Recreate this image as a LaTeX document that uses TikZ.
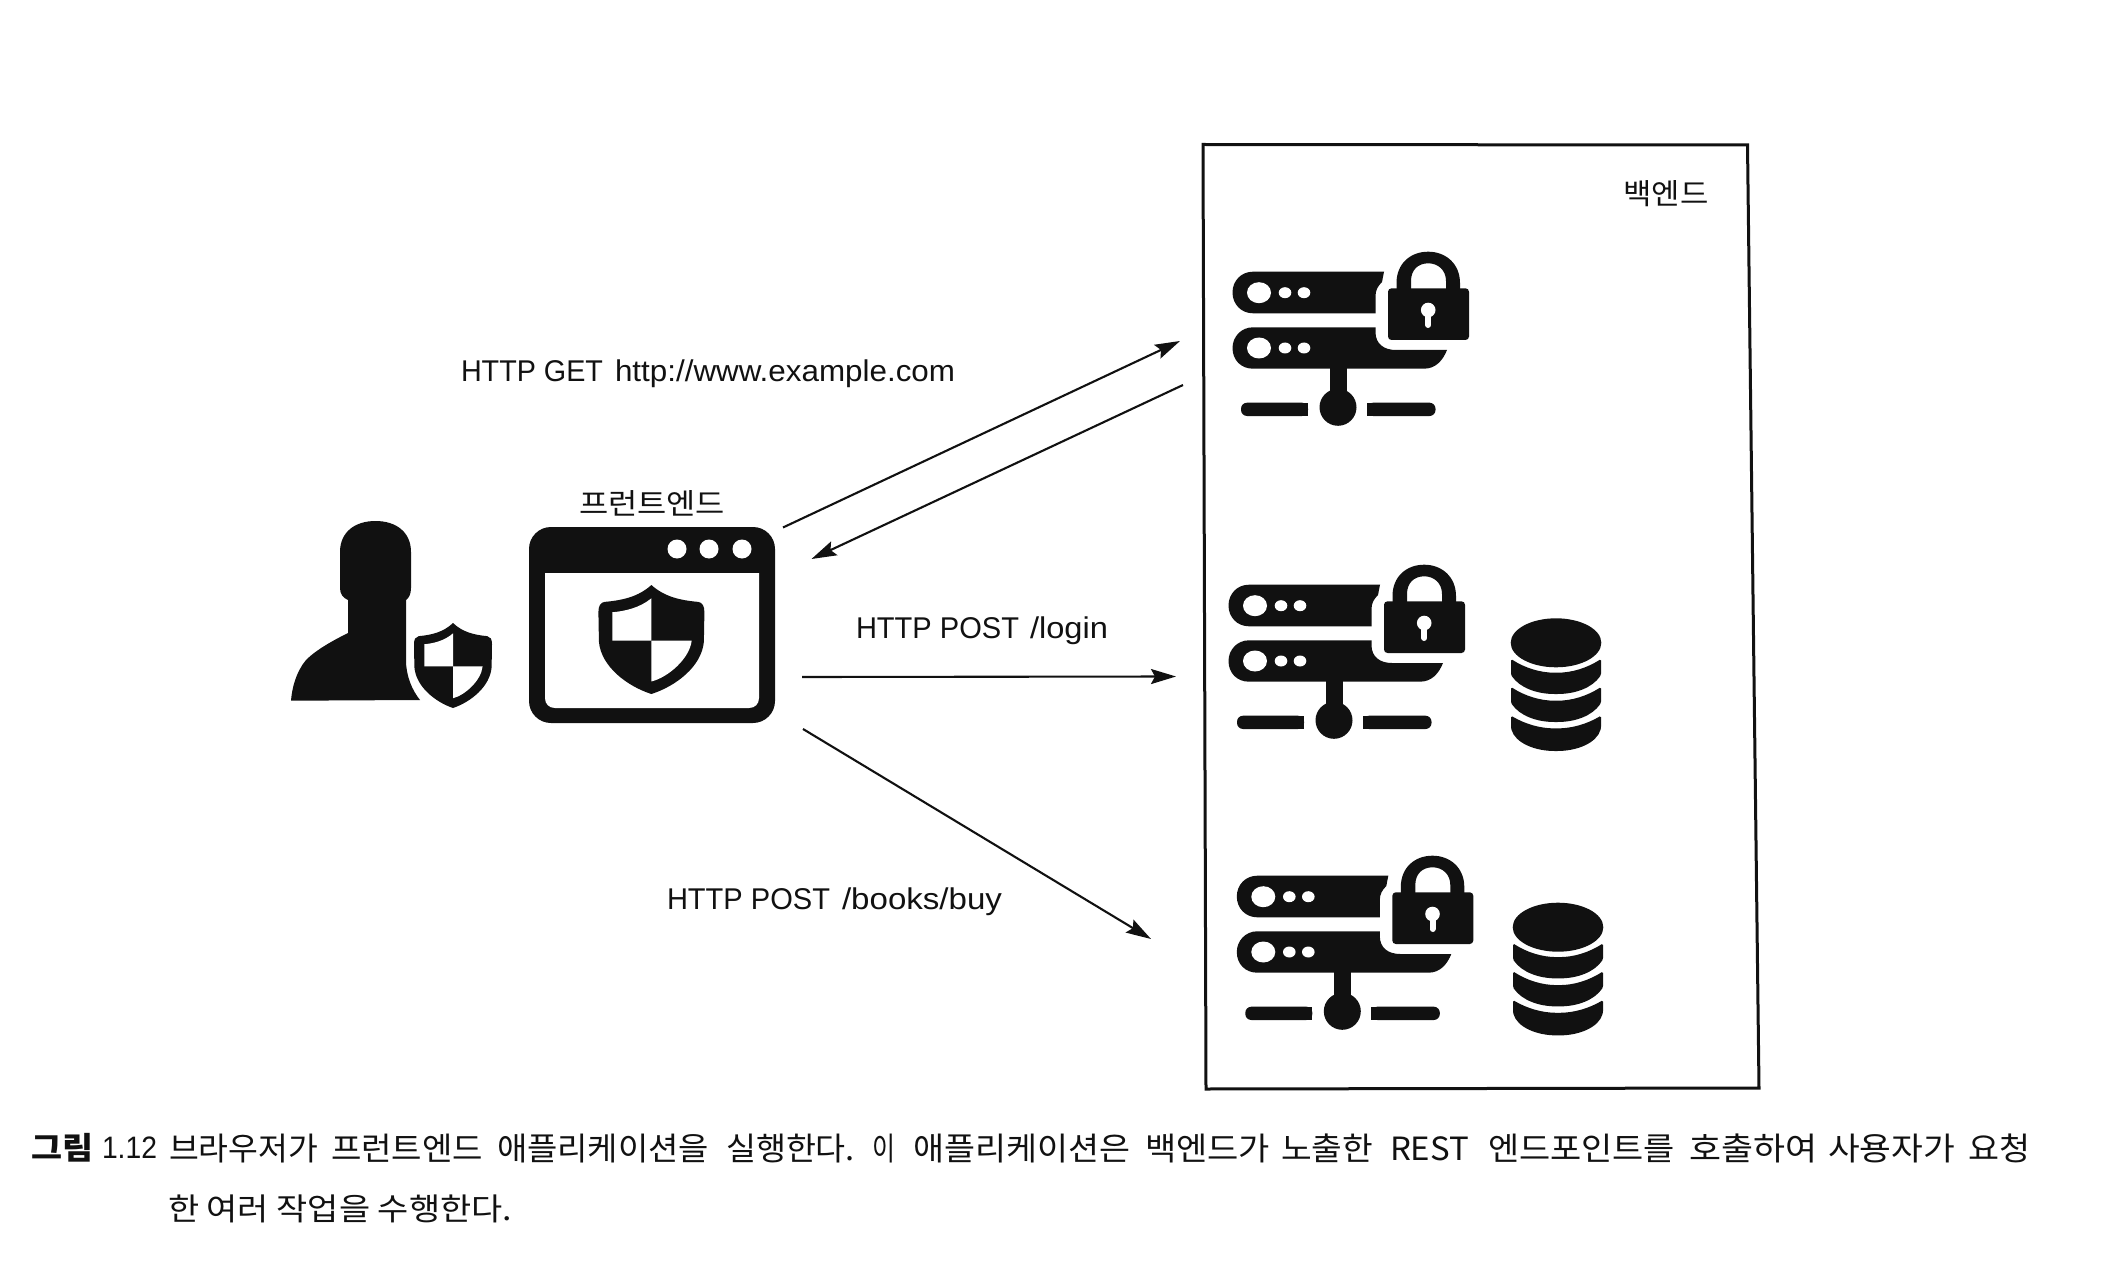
\documentclass[tikz,border=0pt]{standalone}
\usepackage{fontspec}
\usepackage{graphicx}
\setmainfont{Liberation Sans}
\newfontfamily\krfont{Noto Sans CJK KR}
\usetikzlibrary{arrows.meta}
\definecolor{ink}{HTML}{111111}
\tikzset{
  txt/.style={inner sep=0pt,outer sep=0pt,text=ink},
  link/.style={line width=2.1pt,draw=ink,-{Stealth[length=25pt,width=15pt,inset=4pt]}},
  frame/.style={line width=3pt,draw=ink,fill=white,line join=miter},
  solid ink/.style={fill=ink,draw=none},
  hole/.style={fill=white,draw=none}
}
\newcommand{\fitw}[3]{\resizebox{#1pt}{\height}{\fontsize{#2pt}{#2pt}\selectfont #3}}
\newcommand{\gapw}[1]{\hspace*{#1pt}}
\newcommand{\shieldIcon}[4]{%
  \begin{scope}[shift={(#1,#2)},x=#3pt,y=-#4pt]
    \fill[ink] (0,0) .. controls (0.25,0.11) and (0.55,0.14) .. (0.88,0.155)
      .. controls (0.96,0.16) and (1,0.19) .. (1,0.25)
      -- (0.99,0.52) .. controls (0.95,0.75) and (0.45,0.93) .. (0,1)
      .. controls (-0.45,0.93) and (-0.95,0.75) .. (-0.99,0.52)
      -- (-1,0.25) .. controls (-1,0.19) and (-0.96,0.16) .. (-0.88,0.155)
      .. controls (-0.55,0.14) and (-0.25,0.11) .. (0,0) -- cycle;
    \fill[white] (0,0.122) .. controls (-0.22,0.21) and (-0.5,0.24) .. (-0.735,0.25)
      -- (-0.735,0.51) -- (0,0.51) -- cycle;
    \fill[white] (0,0.51) -- (0.76,0.51) .. controls (0.72,0.68) and (0.3,0.85) .. (0,0.885) -- cycle;
  \end{scope}}
\newcommand{\serverIcon}[2]{%
  \begin{scope}[shift={(#1,#2)}]
    % upper bar
    \fill[ink] (1384,271.7) -- (1253,271.7)
      .. controls (1241,271.7) and (1232.5,281) .. (1232.5,292.5)
      .. controls (1232.5,304) and (1241,313.3) .. (1253,313.3)
      -- (1375.5,313.3) -- (1375.5,296)
      .. controls (1375.5,290) and (1378,286) .. (1382,282) -- cycle;
    % lower bar
    \fill[ink] (1375.5,327.3) -- (1253,327.3)
      .. controls (1241,327.3) and (1232.5,337) .. (1232.5,348)
      .. controls (1232.5,360) and (1241,368.7) .. (1253,368.7)
      -- (1424,368.7) .. controls (1436,368.7) and (1443,360) .. (1447,350)
      -- (1396,350) .. controls (1384,350) and (1375.5,344) .. (1375.5,332) -- cycle;
    % holes
    \fill[hole] (1259,292.7) ellipse [x radius=12pt,y radius=10.5pt];
    \fill[hole] (1285,292.7) ellipse [x radius=6.3pt,y radius=5.5pt];
    \fill[hole] (1304,292.7) ellipse [x radius=6.3pt,y radius=5.5pt];
    \fill[hole] (1259,348) ellipse [x radius=12pt,y radius=10.5pt];
    \fill[hole] (1285,348) ellipse [x radius=6.3pt,y radius=5.5pt];
    \fill[hole] (1304,348) ellipse [x radius=6.3pt,y radius=5.5pt];
    % network stem
    \fill[ink] (1330,368) rectangle (1346.5,395);
    \fill[ink] (1338,407.3) circle [radius=18.5pt];
    \fill[ink,rounded corners=6pt] (1241,402.7) rectangle (1308,416);
    \fill[ink] (1300,402.7) rectangle (1308,416);
    \fill[ink,rounded corners=6pt] (1367,402.7) rectangle (1435.5,416);
    \fill[ink] (1367,402.7) rectangle (1375,416);
    % padlock
    \fill[ink,even odd rule] (1396.5,290) -- (1396.5,283)
      .. controls (1396.5,264) and (1410,251.7) .. (1428.2,251.7)
      .. controls (1446,251.7) and (1460,264) .. (1460,283) -- (1460,290) -- cycle
      (1411,290) -- (1446,290) -- (1446,281)
      .. controls (1446,270) and (1438,263.3) .. (1428.2,263.3)
      .. controls (1418,263.3) and (1411,270) .. (1411,281) -- cycle;
    \fill[ink,rounded corners=3.5pt] (1388,288.3) rectangle (1469,340);
    \fill[hole] (1428.2,310) circle [radius=7.3pt];
    \draw[white,line width=6pt,line cap=round] (1428.2,312) -- (1428.2,325);
  \end{scope}}
\newcommand{\dbIcon}[2]{%
  \begin{scope}[shift={(#1,#2)}]
    \fill[ink] (1556,642.8) ellipse [x radius=45.3pt,y radius=24.5pt];
    \foreach \dd in {0,28}{
      \fill[ink,shift={(0,\dd)},rounded corners=1.5pt] (1511,659) .. controls (1525,668) and (1540,672.7) .. (1556,672.7)
        .. controls (1572,672.7) and (1587,668) .. (1601,659)
        -- (1601,675) .. controls (1592,688) and (1575,694) .. (1556,694)
        .. controls (1537,694) and (1520,688) .. (1511,675) -- cycle;
    }
    \fill[ink,rounded corners=1.5pt] (1511,715.7) .. controls (1525,724) and (1540,728.4) .. (1556,728.4)
      .. controls (1572,728.4) and (1587,724) .. (1601,715.7)
      -- (1601,728) .. controls (1597,743) and (1577,751) .. (1556,751)
      .. controls (1535,751) and (1515,743) .. (1511,728) -- cycle;
  \end{scope}}
\begin{document}
\begin{tikzpicture}[x=1pt,y=-1pt]
  \useasboundingbox (0,0) rectangle (2113,1273);
  \fill[white] (0,0) rectangle (2113,1273);

  % backend frame
  \draw[frame] (1203,144.5) -- (1747.5,145) -- (1759,1088) -- (1206,1089) -- cycle;
  \node[txt] (backendlabel) at (1666,194) {\krfont\fitw{85}{29}{백엔드}};

  % servers and databases
  \serverIcon{0}{0}
  \serverIcon{-4}{313}
  \serverIcon{4.3}{604}
  \dbIcon{0}{0}
  \dbIcon{2}{284.4}

  % user
  \fill[ink] (291,700.7) .. controls (292,688) and (296,672) .. (306,660)
    .. controls (316,650) and (332,641) .. (348,633)
    -- (348,600) .. controls (343,598) and (340,594) .. (340,588)
    -- (340,552) .. controls (340,532) and (355,521) .. (375.5,521)
    .. controls (396,521) and (411,532) .. (411,552)
    -- (411,588) .. controls (411,594) and (409,598) .. (406,600)
    -- (406,660) .. controls (406,676) and (412,690) .. (420,700) -- cycle;
  \shieldIcon{453}{623}{39}{85}

  % browser
  \fill[ink,rounded corners=22pt] (529,527) rectangle (775,723);
  \fill[white] (545,573) -- (759,573) -- (759,698)
    .. controls (759,704) and (755,708) .. (749,708) -- (555,708)
    .. controls (549,708) and (545,704) .. (545,698) -- cycle;
  \foreach \cx in {677,709,742}{\fill[hole] (\cx,549) circle [radius=9.5pt];}
  \shieldIcon{651.4}{585}{53}{109}
  \node[txt] (frontendlabel) at (652,503) {\krfont\fitw{146}{29}{프런트엔드}};

  % connector ends
  \coordinate (fa) at (783,527.5);
  \coordinate (ba) at (1180,341);
  \coordinate (bb) at (1183,385);
  \coordinate (fb) at (811.5,559);
  \coordinate (fc) at (802,677);
  \coordinate (bc) at (1176,676.5);
  \coordinate (fd) at (803,729);
  \coordinate (bd) at (1151,939);
  \draw[link] (fa) -- (ba);
  \draw[link] (bb) -- (fb);
  \draw[link] (fc) -- (bc);
  \draw[link] (fd) -- (bd);

  % connector labels
  \node[txt,anchor=west] (getlabel) at (461,374) {\fitw{142}{30}{HTTP GET}\gapw{12}\fitw{340}{30}{http://www.example.com}};
  \node[txt,anchor=west] (loginlabel) at (856,631) {\fitw{163}{30}{HTTP POST}\gapw{11}\fitw{78}{30}{/login}};
  \node[txt,anchor=west] (buylabel) at (667,902) {\fitw{163}{30}{HTTP POST}\gapw{12}\fitw{160}{30}{/books/buy}};

  % caption
  \node[txt,anchor=west] (capfig) at (31,1148) {\krfont\fitw{62}{31}{\bfseries 그림}};
  \node[txt,anchor=west] (capnum) at (102,1148) {\fitw{55}{31}{1.12}};
  \node[txt,anchor=west] (capone) at (169,1148) {\krfont
    \fitw{149}{32}{브라우저가}\gapw{13}%
    \fitw{152}{32}{프런트엔드}\gapw{14}%
    \fitw{212}{32}{애플리케이션을}\gapw{17}%
    \fitw{129}{32}{실행한다.}\gapw{17}%
    \fitw{23}{32}{이}\gapw{18}%
    \fitw{217}{32}{애플리케이션은}\gapw{15}%
    \fitw{125}{32}{백엔드가}\gapw{11}%
    \fitw{92}{32}{노출한}\gapw{17}%
    \fitw{79}{32}{REST}\gapw{19}%
    \fitw{187}{32}{엔드포인트를}\gapw{14}%
    \fitw{128}{32}{호출하여}\gapw{11}%
    \fitw{127}{32}{사용자가}\gapw{13}%
    \fitw{62}{32}{요청}};
  \node[txt,anchor=west] (captwo) at (168,1209) {\krfont\fitw{344}{31}{한 여러 작업을 수행한다.}};
\end{tikzpicture}
\end{document}
